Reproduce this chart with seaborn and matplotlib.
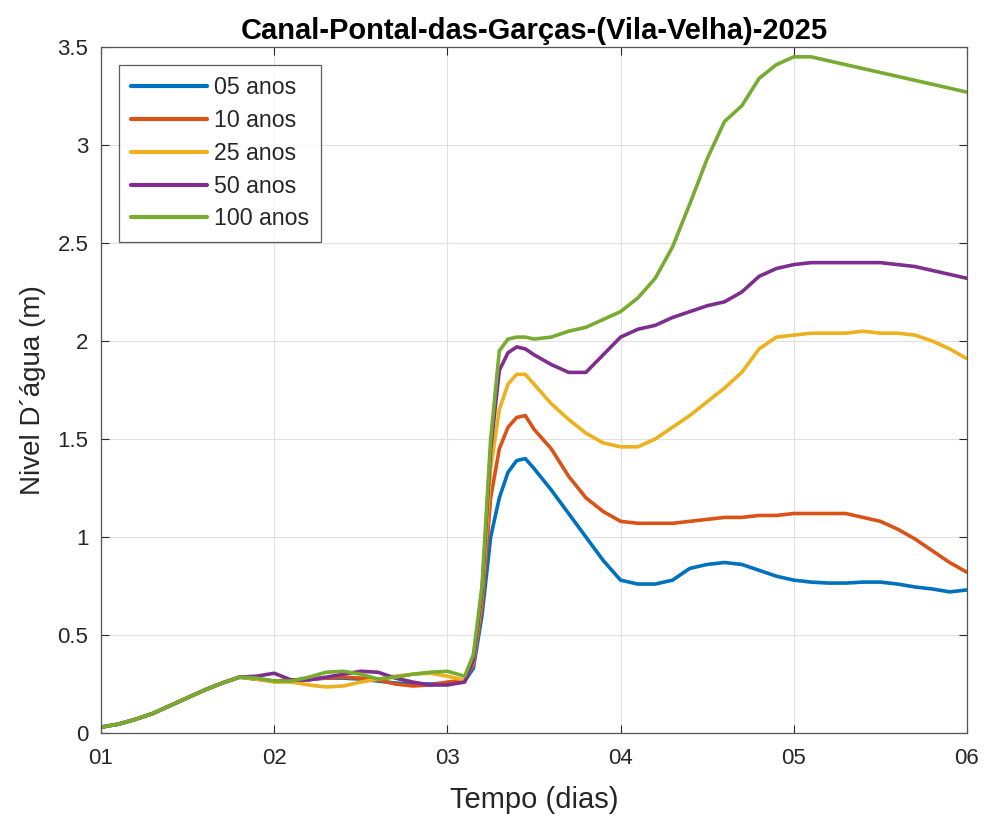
import matplotlib
matplotlib.use("Agg")
import matplotlib.pyplot as plt
import seaborn as sns
import pandas as pd

# ---- data ----
dias = [1.0, 1.1, 1.2, 1.3, 1.4, 1.5, 1.6, 1.7, 1.8, 1.9,
        2.0, 2.1, 2.2, 2.3, 2.4, 2.5, 2.6, 2.7, 2.8, 2.9,
        3.0, 3.1, 3.15, 3.2, 3.25, 3.3, 3.35, 3.4, 3.45, 3.5,
        3.6, 3.7, 3.8, 3.9, 4.0, 4.1, 4.2, 4.3, 4.4, 4.5,
        4.6, 4.7, 4.8, 4.9, 5.0, 5.1, 5.2, 5.3, 5.4, 5.5,
        5.6, 5.7, 5.8, 5.9, 6.0]

inicio = [0.03, 0.045, 0.07, 0.10, 0.14, 0.18, 0.22, 0.255, 0.285]

tr05 = inicio + [0.275,
        0.265, 0.27, 0.275, 0.28, 0.28, 0.275, 0.265, 0.255, 0.25, 0.25,
        0.255, 0.265, 0.33, 0.60, 1.00, 1.20, 1.33, 1.39, 1.40, 1.35,
        1.24, 1.12, 1.00, 0.88, 0.78, 0.76, 0.76, 0.78, 0.84, 0.86,
        0.87, 0.86, 0.83, 0.80, 0.78, 0.77, 0.765, 0.765, 0.77, 0.77,
        0.76, 0.745, 0.735, 0.72, 0.73]

tr10 = inicio + [0.275,
        0.265, 0.27, 0.275, 0.28, 0.285, 0.28, 0.27, 0.25, 0.24, 0.245,
        0.26, 0.27, 0.35, 0.65, 1.20, 1.45, 1.56, 1.61, 1.62, 1.55,
        1.45, 1.31, 1.20, 1.13, 1.08, 1.07, 1.07, 1.07, 1.08, 1.09,
        1.10, 1.10, 1.11, 1.11, 1.12, 1.12, 1.12, 1.12, 1.10, 1.08,
        1.04, 0.99, 0.93, 0.87, 0.82]

tr25 = inicio + [0.275,
        0.26, 0.26, 0.245, 0.235, 0.24, 0.26, 0.275, 0.29, 0.30, 0.305,
        0.29, 0.27, 0.36, 0.70, 1.35, 1.65, 1.78, 1.83, 1.83, 1.78,
        1.68, 1.60, 1.53, 1.48, 1.46, 1.46, 1.50, 1.56, 1.62, 1.69,
        1.76, 1.84, 1.96, 2.02, 2.03, 2.04, 2.04, 2.04, 2.05, 2.04,
        2.04, 2.03, 2.00, 1.96, 1.91]

tr50 = inicio + [0.29,
        0.305, 0.27, 0.27, 0.285, 0.30, 0.315, 0.31, 0.28, 0.26, 0.245,
        0.245, 0.26, 0.37, 0.72, 1.45, 1.85, 1.94, 1.97, 1.96, 1.93,
        1.88, 1.84, 1.84, 1.93, 2.02, 2.06, 2.08, 2.12, 2.15, 2.18,
        2.20, 2.25, 2.33, 2.37, 2.39, 2.40, 2.40, 2.40, 2.40, 2.40,
        2.39, 2.38, 2.36, 2.34, 2.32]

tr100 = inicio + [0.28,
        0.265, 0.265, 0.285, 0.31, 0.315, 0.30, 0.275, 0.285, 0.30, 0.31,
        0.315, 0.29, 0.40, 0.75, 1.50, 1.95, 2.01, 2.02, 2.02, 2.01,
        2.02, 2.05, 2.07, 2.11, 2.15, 2.22, 2.32, 2.48, 2.70, 2.93,
        3.12, 3.20, 3.34, 3.41, 3.45, 3.45, 3.43, 3.41, 3.39, 3.37,
        3.35, 3.33, 3.31, 3.29, 3.27]

series = ["05 anos", "10 anos", "25 anos", "50 anos", "100 anos"]
valores = [tr05, tr10, tr25, tr50, tr100]
cores = ["#0072BD", "#D95319", "#EDB120", "#7E2F8E", "#77AC30"]

xticks = [1, 2, 3, 4, 5, 6]
xticklabels = ["01", "02", "03", "04", "05", "06"]
yticks = [0, 0.5, 1, 1.5, 2, 2.5, 3, 3.5]
yticklabels = ["0", "0.5", "1", "1.5", "2", "2.5", "3", "3.5"]

# ---- long table for seaborn ----
df = pd.concat(
    [pd.DataFrame({"Tempo": dias, "Nivel": v, "TR": s}) for s, v in zip(series, valores)],
    ignore_index=True,
)

sns.set_theme(style="whitegrid")
plt.rcParams["font.family"] = ["Liberation Sans", "DejaVu Sans"]

fig = plt.figure(figsize=(9.87, 8.18), dpi=100)
ax = fig.add_axes([0.1023, 0.1039, 0.8774, 0.8386])

sns.lineplot(
    data=df, x="Tempo", y="Nivel", hue="TR", hue_order=series,
    palette=cores, linewidth=2.6, sort=False, estimator=None, ax=ax,
)

ax.set_xlim(1, 6)
ax.set_ylim(0, 3.5)
ax.set_xticks(xticks)
ax.set_xticklabels(xticklabels)
ax.set_yticks(yticks)
ax.set_yticklabels(yticklabels)

ax.set_title("Canal-Pontal-das-Garças-(Vila-Velha)-2025",
             fontsize=21, fontweight="bold", color="black", pad=6)
ax.set_xlabel("Tempo (dias)", fontsize=21, color="#262626", labelpad=12)
ax.set_ylabel("Nivel D´água (m)", fontsize=20, color="#262626", labelpad=8)

# MATLAB-like axes
ax.set_facecolor("white")
ax.grid(True, color="#e0e0e0", linewidth=0.8)
for sp in ax.spines.values():
    sp.set_visible(True)
    sp.set_color("#555555")
    sp.set_linewidth(0.9)
ax.tick_params(axis="both", which="major", direction="in", length=6, width=0.8,
               colors="#262626", labelsize=16, top=True, right=True,
               bottom=True, left=True)
ax.tick_params(axis="x", pad=11)
ax.tick_params(axis="y", pad=9)

leg = ax.legend(loc="upper left", bbox_to_anchor=(0.021, 0.974), fontsize=16.7,
                frameon=True, fancybox=False, handlelength=3.3, handletextpad=0.3,
                borderpad=0.5, labelspacing=0.42, borderaxespad=0.0)
leg.get_frame().set_edgecolor("#333333")
leg.get_frame().set_linewidth(0.9)
for h in leg.get_lines():
    h.set_linewidth(3)

fig.savefig("out.png", dpi=100)
